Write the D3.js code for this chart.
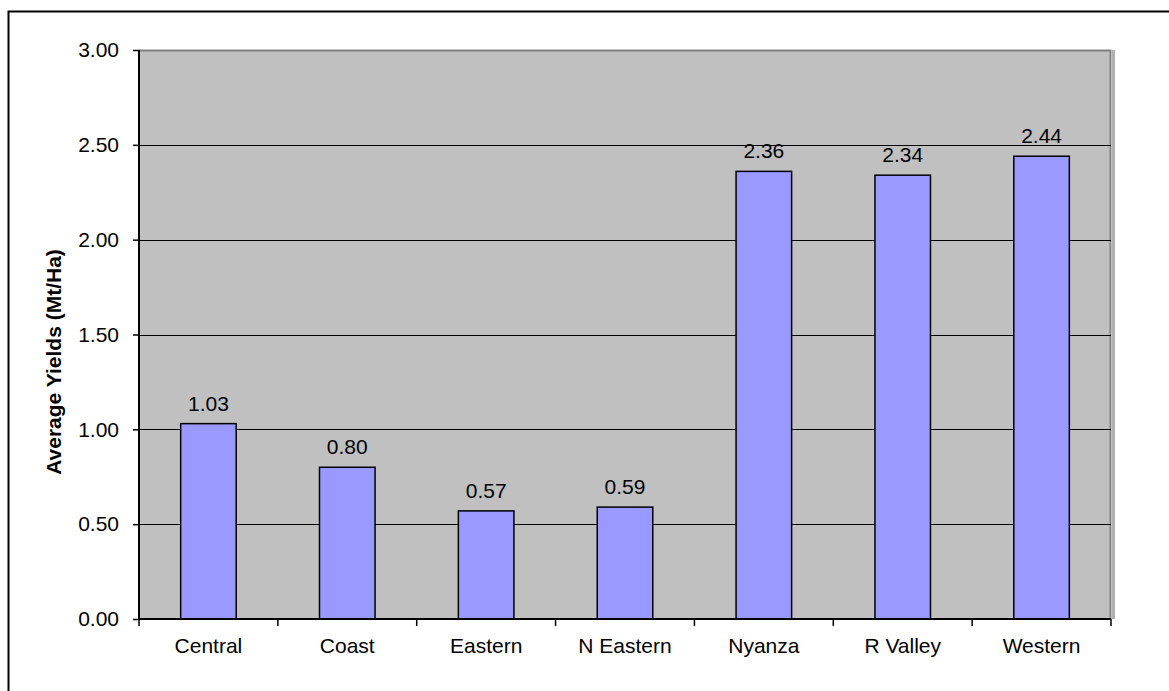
<!DOCTYPE html>
<html>
<head>
<meta charset="utf-8">
<script src="https://cdn.jsdelivr.net/npm/d3@7/dist/d3.min.js"></script>
<style>
  html, body { margin: 0; padding: 0; background: #fff; }
  svg { display: block; }
  text { font-family: "Liberation Sans", Arial, sans-serif; fill: #000; }
</style>
</head>
<body>
<svg id="chart" width="1169" height="691"></svg>
<script>
// Average yields by province (Mt/Ha)
const provinces = ["Central", "Coast", "Eastern", "N Eastern", "Nyanza", "R Valley", "Western"];
const yields = [1.03, 0.80, 0.57, 0.59, 2.36, 2.34, 2.44];
const yTicks = [0, 0.5, 1.0, 1.5, 2.0, 2.5, 3.0];
const yTitle = "Average Yields (Mt/Ha)";

const svg = d3.select("#chart");
const W = 1169, H = 691;
const margin = { left: 139, top: 50, right: 58, bottom: 72 };
const pw = W - margin.left - margin.right;
const ph = H - margin.top - margin.bottom;
const fs = "21px";

// outer chart frame (runs past the right and bottom edges)
svg.append("rect")
  .attr("x", 8.5).attr("y", 11.5)
  .attr("width", 1200).attr("height", 720)
  .attr("fill", "none").attr("stroke", "#000").attr("stroke-width", 2);

const g = svg.append("g").attr("transform", `translate(${margin.left},${margin.top})`);

const x = d3.scaleBand().domain(provinces).range([0, pw]).padding(0);
const y = d3.scaleLinear().domain([0, 3]).range([ph, 0]);

// plot area background
g.append("rect")
  .attr("x", 0).attr("y", 0).attr("width", pw).attr("height", ph)
  .attr("fill", "#c0c0c0");

// right-side shadow of the plot area
g.append("line")
  .attr("x1", pw + 2.5).attr("x2", pw + 2.5)
  .attr("y1", 0).attr("y2", ph)
  .attr("stroke", "#b0b0b0").attr("stroke-width", 3);

// plot area border (top and right)
g.append("path")
  .attr("d", `M0,0.5H${pw - 0.5}V${ph}`)
  .attr("fill", "none").attr("stroke", "#808080").attr("stroke-width", 2);

// gridlines
g.append("g").selectAll("line")
  .data(yTicks.filter(t => t > 0 && t < 3))
  .join("line")
  .attr("x1", 0).attr("x2", pw)
  .attr("y1", d => Math.round(y(d)) + 0.5).attr("y2", d => Math.round(y(d)) + 0.5)
  .attr("stroke", "#000").attr("stroke-width", 1.2);

// bars
const barW = x.bandwidth() * 0.4;
g.append("g").selectAll("rect")
  .data(provinces.map((p, i) => ({ p, v: yields[i] })))
  .join("rect")
  .attr("x", d => x(d.p) + (x.bandwidth() - barW) / 2)
  .attr("y", d => y(d.v))
  .attr("width", barW)
  .attr("height", d => ph - y(d.v))
  .attr("fill", "#9999ff")
  .attr("stroke", "#000").attr("stroke-width", 1.5);

// value labels
g.append("g").selectAll("text")
  .data(provinces.map((p, i) => ({ p, v: yields[i] })))
  .join("text")
  .attr("x", d => x(d.p) + x.bandwidth() / 2)
  .attr("y", d => y(d.v) - 13)
  .attr("text-anchor", "middle")
  .style("font-size", fs)
  .text(d => d.v.toFixed(2));

// y axis
const yAxis = g.append("g")
  .call(d3.axisLeft(y).tickValues(yTicks).tickFormat(d3.format(".2f")).tickSize(6).tickPadding(14));
yAxis.select(".domain").remove();
yAxis.selectAll(".tick line").attr("stroke", "#000").attr("stroke-width", 1.5);
yAxis.selectAll(".tick text")
  .style("font-size", fs)
  .style("font-family", "'Liberation Sans', Arial, sans-serif")
  .attr("fill", "#000");
g.append("line")
  .attr("x1", 0).attr("x2", 0).attr("y1", 0).attr("y2", ph + 1)
  .attr("stroke", "#000").attr("stroke-width", 2);

// x axis: baseline, boundary ticks and category labels
const xg = g.append("g").attr("transform", `translate(0,${ph})`);
xg.append("line")
  .attr("x1", 0).attr("x2", pw).attr("y1", 0).attr("y2", 0)
  .attr("stroke", "#000").attr("stroke-width", 2);
const bounds = provinces.map(p => x(p)).concat([pw]);
xg.selectAll("line.tk")
  .data(bounds)
  .join("line").attr("class", "tk")
  .attr("x1", d => d).attr("x2", d => d)
  .attr("y1", 0).attr("y2", 7)
  .attr("stroke", "#000").attr("stroke-width", 1.5);
xg.selectAll("text")
  .data(provinces)
  .join("text")
  .attr("x", d => x(d) + x.bandwidth() / 2)
  .attr("y", 34)
  .attr("text-anchor", "middle")
  .style("font-size", fs)
  .text(d => d);

// y axis title
svg.append("text")
  .attr("transform", `translate(61,362) rotate(-90)`)
  .attr("text-anchor", "middle")
  .style("font-size", fs)
  .style("font-weight", "bold")
  .text(yTitle);
</script>
</body>
</html>
